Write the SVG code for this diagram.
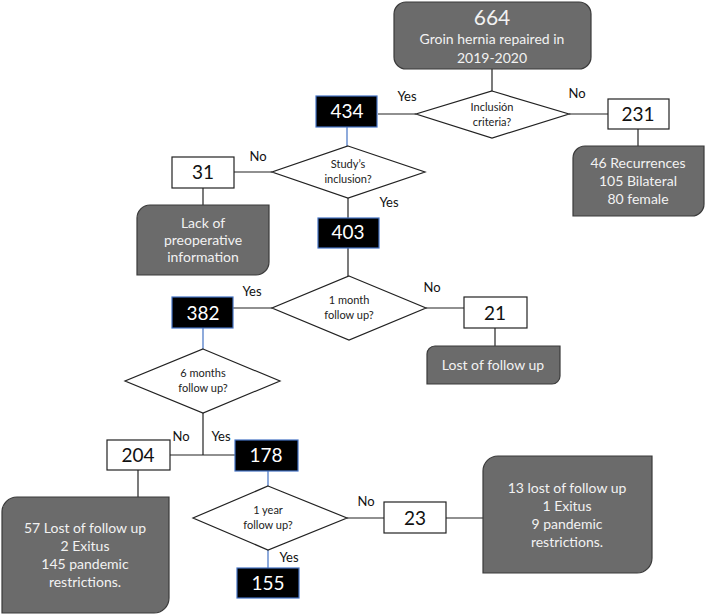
<svg xmlns="http://www.w3.org/2000/svg" width="706" height="616" viewBox="0 0 706 616">
<style>
text{font-family:Lato,"Open Sans","Liberation Sans",sans-serif;text-anchor:middle}
.gray{fill:#6b6b6b;stroke:#3a3a3a;stroke-width:1.2}
.gt{fill:#f2f2f2;font-size:14px}
.wb{fill:#fff;stroke:#222;stroke-width:1.2}
.bb{fill:#000;stroke:#4472c4;stroke-width:1.2}
.num{font-size:19px;fill:#111}
.bnum{font-size:19px;fill:#fff}
.dia{fill:#fff;stroke:#222;stroke-width:1.2}
.dt{font-size:11px;fill:#222}
.lbl{font-size:13px;fill:#111}
.ln{stroke:#222;stroke-width:1.2;fill:none}
.bl{stroke:#4472c4;stroke-width:1.2;fill:none}
</style>
<g id="connectors">
<line class="ln" x1="492" y1="69" x2="492" y2="91"/>
<line class="ln" x1="569" y1="114" x2="608" y2="114"/>
<line class="ln" x1="378" y1="114" x2="416" y2="114"/>
<line class="ln" x1="638" y1="129" x2="638" y2="146"/>
<line class="bl" x1="347" y1="127" x2="347" y2="146"/>
<line class="ln" x1="234" y1="172" x2="272" y2="172"/>
<line class="ln" x1="203" y1="188" x2="203" y2="205"/>
<line class="ln" x1="348" y1="198" x2="348" y2="218"/>
<line class="ln" x1="348" y1="248" x2="348" y2="276"/>
<line class="ln" x1="233" y1="308" x2="272" y2="308"/>
<line class="ln" x1="426" y1="308" x2="464" y2="308"/>
<line class="ln" x1="495" y1="328" x2="495" y2="346"/>
<line class="bl" x1="203" y1="328" x2="203" y2="349"/>
<line class="ln" x1="203" y1="413" x2="203" y2="455"/>
<line class="ln" x1="170" y1="455" x2="235" y2="455"/>
<line class="ln" x1="138" y1="470" x2="138" y2="497"/>
<line class="bl" x1="268" y1="471" x2="268" y2="486"/>
<line class="bl" x1="268" y1="550" x2="268" y2="568"/>
<line class="ln" x1="347" y1="518" x2="384" y2="518"/>
<line class="ln" x1="446" y1="518" x2="483" y2="518"/>
</g>
<g id="labels">
<text class="lbl" x="407" y="101">Yes</text>
<text class="lbl" x="577" y="98">No</text>
<text class="lbl" x="258" y="161">No</text>
<text class="lbl" x="389" y="207">Yes</text>
<text class="lbl" x="252" y="296">Yes</text>
<text class="lbl" x="432" y="292">No</text>
<text class="lbl" x="181" y="441">No</text>
<text class="lbl" x="221" y="441">Yes</text>
<text class="lbl" x="289" y="562">Yes</text>
<text class="lbl" x="366" y="506">No</text>
</g>
<g id="n664">
<rect class="gray" x="394" y="2" width="197" height="67" rx="12"/>
<text class="gt" x="492" y="25" style="font-size:21px">664</text>
<text class="gt" x="492" y="44">Groin hernia repaired in</text>
<text class="gt" x="492" y="63">2019-2020</text>
</g>
<g id="d-inclusion">
<polygon class="dia" points="492,91 569,114 492,138 416,114"/>
<text class="dt" x="492" y="111">Inclusión</text>
<text class="dt" x="492" y="126">criteria?</text>
</g>
<g id="n231">
<rect class="wb" x="608" y="99" width="61" height="30"/>
<text class="num" x="638" y="121">231</text>
</g>
<g id="n231-detail">
<path class="gray" d="M585,146 H704 V204 A12,12 0 0 1 692,216 H573 V158 A12,12 0 0 1 585,146 Z"/>
<text class="gt" x="638" y="168">46 Recurrences</text>
<text class="gt" x="638" y="186">105 Bilateral</text>
<text class="gt" x="638" y="204">80 female</text>
</g>
<g id="n434">
<rect class="bb" x="316" y="96" width="61" height="31"/>
<text class="bnum" x="347" y="118">434</text>
</g>
<g id="d-study">
<polygon class="dia" points="348,146 425,172 348,198 272,172"/>
<text class="dt" x="348" y="168">Study’s</text>
<text class="dt" x="348" y="183">inclusion?</text>
</g>
<g id="n31">
<rect class="wb" x="172" y="157" width="62" height="31"/>
<text class="num" x="203" y="179">31</text>
</g>
<g id="n31-detail">
<path class="gray" d="M150,205 H269 V262 A13,13 0 0 1 256,275 H137 V218 A13,13 0 0 1 150,205 Z"/>
<text class="gt" x="203" y="228">Lack of</text>
<text class="gt" x="203" y="245">preoperative</text>
<text class="gt" x="203" y="262">information</text>
</g>
<g id="n403">
<rect class="bb" x="318" y="218" width="61" height="30"/>
<text class="bnum" x="348" y="239">403</text>
</g>
<g id="d-1month">
<polygon class="dia" points="349,276 426,308 349,340 272,308"/>
<text class="dt" x="349" y="304">1 month</text>
<text class="dt" x="349" y="319">follow up?</text>
</g>
<g id="n382">
<rect class="bb" x="172" y="297" width="61" height="31"/>
<text class="bnum" x="203" y="320">382</text>
</g>
<g id="n21">
<rect class="wb" x="464" y="297" width="63" height="31"/>
<text class="num" x="495" y="320">21</text>
</g>
<g id="n21-detail">
<path class="gray" d="M435,346 H560 V376 A8,8 0 0 1 552,384 H427 V354 A8,8 0 0 1 435,346 Z"/>
<text class="gt" x="493" y="370">Lost of follow up</text>
</g>
<g id="d-6months">
<polygon class="dia" points="203,349 280,381 203,413 125,381"/>
<text class="dt" x="203" y="377">6 months</text>
<text class="dt" x="203" y="392">follow up?</text>
</g>
<g id="n204">
<rect class="wb" x="107" y="440" width="63" height="30"/>
<text class="num" x="138" y="462">204</text>
</g>
<g id="n204-detail">
<path class="gray" d="M17,497 H169 V598 A15,15 0 0 1 154,613 H2 V512 A15,15 0 0 1 17,497 Z"/>
<text class="gt" x="85" y="533">57 Lost of follow up</text>
<text class="gt" x="85" y="551">2 Exitus</text>
<text class="gt" x="85" y="569">145 pandemic</text>
<text class="gt" x="85" y="587">restrictions.</text>
</g>
<g id="n178">
<rect class="bb" x="235" y="440" width="63" height="31"/>
<text class="bnum" x="266" y="462">178</text>
</g>
<g id="d-1year">
<polygon class="dia" points="268,486 347,518 268,550 193,518"/>
<text class="dt" x="268" y="514">1 year</text>
<text class="dt" x="268" y="529">follow up?</text>
</g>
<g id="n155">
<rect class="bb" x="237" y="568" width="62" height="30"/>
<text class="bnum" x="268" y="590">155</text>
</g>
<g id="n23">
<rect class="wb" x="384" y="502" width="62" height="31"/>
<text class="num" x="415" y="525">23</text>
</g>
<g id="n23-detail">
<path class="gray" d="M498,456 H652 V558 A15,15 0 0 1 637,573 H483 V471 A15,15 0 0 1 498,456 Z"/>
<text class="gt" x="567" y="493">13 lost of follow up</text>
<text class="gt" x="567" y="511">1 Exitus</text>
<text class="gt" x="567" y="529">9 pandemic</text>
<text class="gt" x="567" y="547">restrictions.</text>
</g>
</svg>
